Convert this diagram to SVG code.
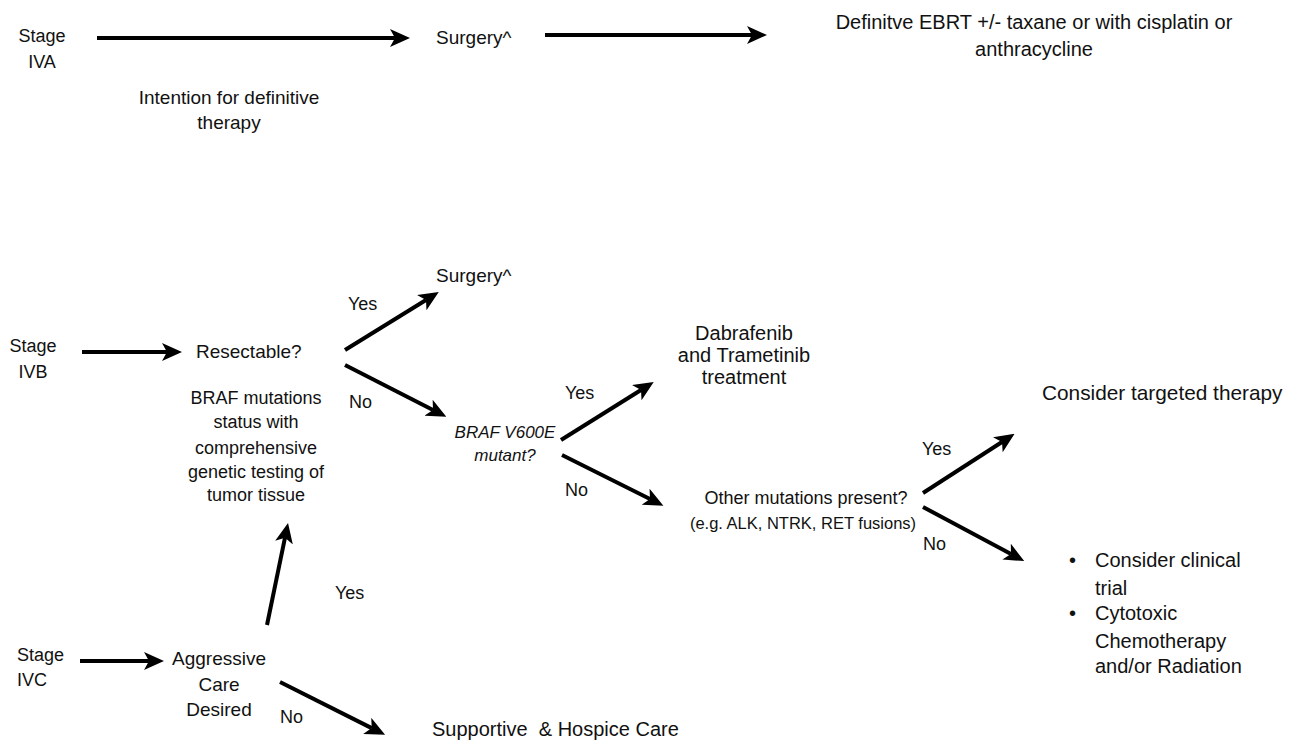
<svg xmlns="http://www.w3.org/2000/svg" width="1298" height="744" viewBox="0 0 1298 744">
<style>
text{font-family:"Liberation Sans",Arial,sans-serif;font-size:18px;fill:#111}
.c{text-anchor:middle}
.i{font-style:italic;font-size:17px}
.m{font-size:19px}
.l{font-size:20px}
.xl{font-size:20.8px}
.a{stroke:#000;stroke-width:4;fill:none;marker-end:url(#h)}
</style>
<defs>
<marker id="h" markerUnits="userSpaceOnUse" markerWidth="20" markerHeight="18" viewBox="0 0 20 18" refX="5" refY="9" orient="auto">
<path d="M0,0 L20,9 L0,18 L5,9 z" fill="#000"/>
</marker>
</defs>
<rect width="1298" height="744" fill="#fff"/>
<g id="connectors">
<line class="a" x1="97" y1="38" x2="395" y2="38"/>
<line class="a" x1="545" y1="35" x2="752" y2="35"/>
<line class="a" x1="82" y1="352" x2="167" y2="352"/>
<line class="a" x1="345" y1="350" x2="426" y2="300"/>
<line class="a" x1="345" y1="365" x2="433" y2="410"/>
<line class="a" x1="561" y1="440" x2="641" y2="390"/>
<line class="a" x1="562" y1="455" x2="650" y2="499"/>
<line class="a" x1="923" y1="493" x2="1002" y2="442"/>
<line class="a" x1="923" y1="507" x2="1011" y2="554"/>
<line class="a" x1="80" y1="661" x2="149" y2="661"/>
<line class="a" x1="267" y1="625" x2="285" y2="537.7"/>
<line class="a" x1="280" y1="682" x2="371.7" y2="728.1"/>
<text x="229" y="104" class="c m">Intention for definitive</text>
<text x="229" y="129" class="c m">therapy</text>
<text x="348" y="310">Yes</text>
<text x="349" y="408">No</text>
<text x="565" y="399">Yes</text>
<text x="565" y="496">No</text>
<text x="922" y="455">Yes</text>
<text x="923" y="550">No</text>
<text x="335" y="599">Yes</text>
<text x="280" y="723">No</text>
</g>
<g id="stage-iva"><text x="42" y="42" class="c">Stage</text><text x="42" y="68" class="c">IVA</text></g>
<g id="surgery-1"><text x="436" y="44" class="m">Surgery^</text></g>
<g id="definitive"><text x="1034" y="29" class="c l">Definitve EBRT +/- taxane or with cisplatin or</text><text x="1034" y="56" class="c l">anthracycline</text></g>
<g id="stage-ivb"><text x="33" y="352" class="c">Stage</text><text x="33" y="378" class="c">IVB</text></g>
<g id="resectable"><text x="196" y="358" class="m">Resectable?</text></g>
<g id="braf-testing">
<text x="256" y="404" class="c">BRAF mutations</text>
<text x="256" y="428" class="c">status with</text>
<text x="256" y="454" class="c">comprehensive</text>
<text x="256" y="478" class="c">genetic testing of</text>
<text x="256" y="501" class="c">tumor tissue</text>
</g>
<g id="surgery-2"><text x="436" y="282" class="m">Surgery^</text></g>
<g id="braf-v600e"><text x="505" y="438" class="c i">BRAF V600E</text><text x="505" y="461" class="c i">mutant?</text></g>
<g id="dabrafenib">
<text x="744" y="340" class="c l">Dabrafenib</text>
<text x="744" y="362" class="c l">and Trametinib</text>
<text x="744" y="384" class="c l">treatment</text>
</g>
<g id="other-mutations"><text x="806" y="504" class="c">Other mutations present?</text><text x="803" y="529" class="c" style="font-size:16.5px">(e.g. ALK, NTRK, RET fusions)</text></g>
<g id="targeted"><text x="1042" y="400" class="xl">Consider targeted therapy</text></g>
<g id="clinical-trial">
<text x="1069" y="567" class="l">•</text><text x="1095" y="567" class="l">Consider clinical</text>
<text x="1095" y="595" class="l">trial</text>
<text x="1069" y="620" class="l">•</text><text x="1095" y="620" class="l">Cytotoxic</text>
<text x="1095" y="648" class="l">Chemotherapy</text>
<text x="1095" y="673" class="l">and/or Radiation</text>
</g>
<g id="stage-ivc"><text x="17" y="661">Stage</text><text x="17" y="686">IVC</text></g>
<g id="aggressive"><text x="219" y="665" class="c m">Aggressive</text><text x="219" y="691" class="c m">Care</text><text x="219" y="716" class="c m">Desired</text></g>
<g id="supportive"><text x="432" y="736" class="l">Supportive&#160; &amp; Hospice Care</text></g>
</svg>
